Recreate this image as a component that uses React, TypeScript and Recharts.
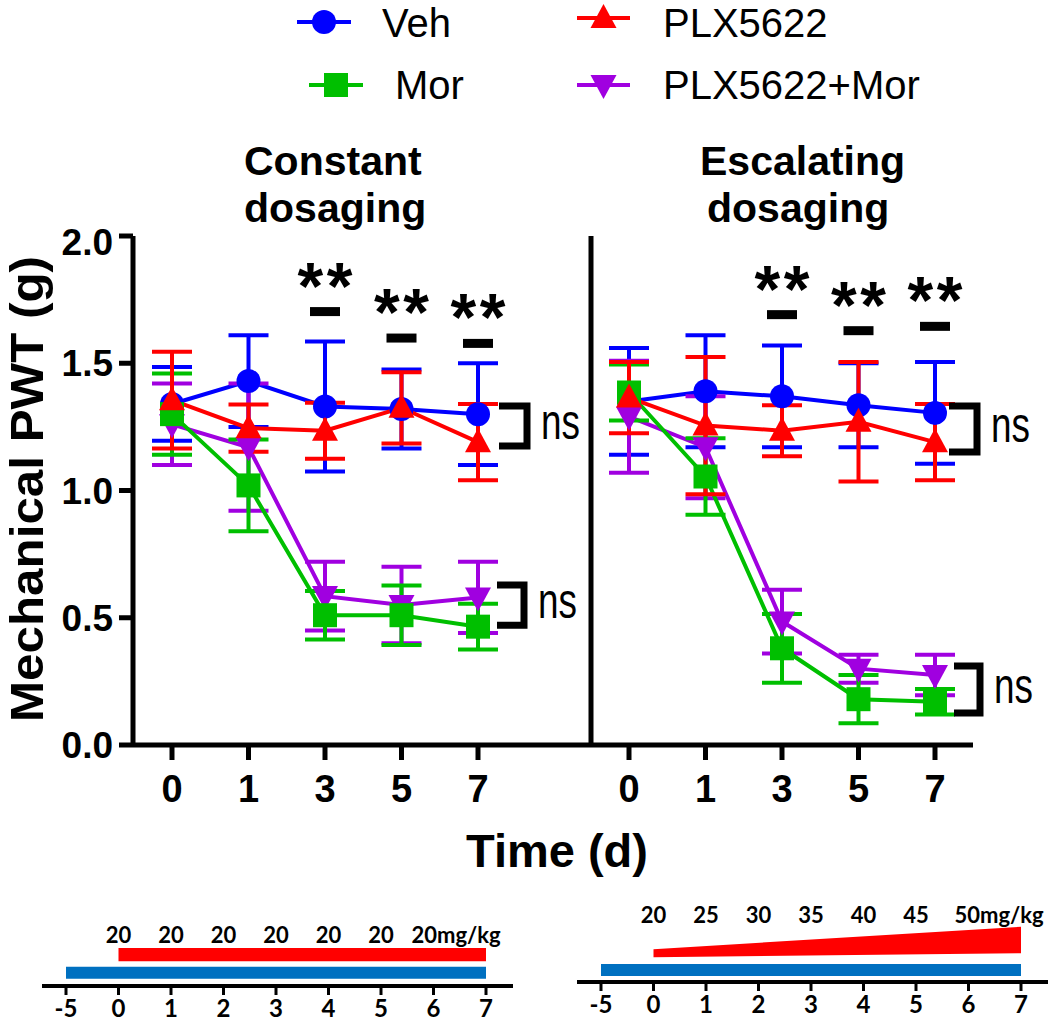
import React from 'react';
import {
  LineChart, Line, XAxis, YAxis, ErrorBar, ReferenceDot, ReferenceLine,
  ComposedChart, Area, LabelList,
} from 'recharts';

const FONT = '"Liberation Sans", Arial, Helvetica, sans-serif';
const TL_FONT = 'Lato, "Liberation Sans", Arial, sans-serif';

const BLUE = '#0000ff';
const GREEN = '#00bf00';
const RED = '#ff0000';
const PURPLE = '#a000e0';
const TL_BLUE = '#0070c0';

// time points (days)
const days = ['0', '1', '3', '5', '7'];

// constant dosaging panel: mean and SEM
const vehConst = [1.34, 1.43, 1.33, 1.32, 1.3];
const vehConstErr = [0.145, 0.18, 0.255, 0.155, 0.2];
const morConst = [1.3, 1.02, 0.51, 0.51, 0.465];
const morConstErr = [0.16, 0.18, 0.095, 0.117, 0.09];
const plxConst = [1.355, 1.245, 1.235, 1.325, 1.19];
const plxConstErr = [0.19, 0.093, 0.11, 0.14, 0.15];
const comboConst = [1.26, 1.17, 0.585, 0.55, 0.58];
const comboConstErr = [0.16, 0.25, 0.135, 0.15, 0.14];

// escalating dosaging panel
const vehEsc = [1.35, 1.39, 1.37, 1.335, 1.305];
const vehEscErr = [0.21, 0.22, 0.2, 0.165, 0.2];
const morEsc = [1.385, 1.055, 0.38, 0.18, 0.17];
const morEscErr = [0.11, 0.15, 0.135, 0.095, 0.05];
const plxEsc = [1.365, 1.255, 1.235, 1.27, 1.19];
const plxEscErr = [0.14, 0.27, 0.1, 0.235, 0.15];
const comboEsc = [1.29, 1.17, 0.485, 0.3, 0.275];
const comboEscErr = [0.22, 0.2, 0.125, 0.055, 0.08];

const yTicks = [0, 0.5, 1, 1.5, 2];

// significance bars (**) per panel
const sigDays = ['3', '5', '7'];
const sigConst = [1.703, 1.599, 1.578];
const sigEsc = [1.691, 1.628, 1.645];

// "ns" brackets at day 7: [top, bottom]
const nsConstHigh = [1.332, 1.175];
const nsConstLow = [0.629, 0.471];
const nsEscHigh = [1.332, 1.151];
const nsEscLow = [0.31, 0.126];

// dosing schedule timelines
const tlDays = ['-5', '0', '1', '2', '3', '4', '5', '6', '7'];
const constDose = [null, 20, 20, 20, 20, 20, 20, 20, null];
const escDose = [null, 20, 25, 30, 35, 40, 45, 50, null];
const salineConst = [0.9, 2.4];
const drugConst = [3.1, 4.75];
const salineEsc = [0.75, 2.25];
const wedgeStart = [3.1, 4.1];
const wedgeEnd = [3.6, 6.9];

const series = [
  { key: 'veh', name: 'Veh', color: BLUE, shape: 'circle' },
  { key: 'combo', name: 'PLX5622+Mor', color: PURPLE, shape: 'down' },
  { key: 'mor', name: 'Mor', color: GREEN, shape: 'square' },
  { key: 'plx', name: 'PLX5622', color: RED, shape: 'up' },
];

const buildRows = (
  veh: number[], vehErr: number[], mor: number[], morErr: number[],
  plx: number[], plxErr: number[], combo: number[], comboErr: number[],
) =>
  days.map((day, i) => ({
    day,
    veh: veh[i], vehErr: vehErr[i],
    mor: mor[i], morErr: morErr[i],
    plx: plx[i], plxErr: plxErr[i],
    combo: combo[i], comboErr: comboErr[i],
  }));

const constRows = buildRows(vehConst, vehConstErr, morConst, morConstErr, plxConst, plxConstErr, comboConst, comboConstErr);
const escRows = buildRows(vehEsc, vehEscErr, morEsc, morEscErr, plxEsc, plxEscErr, comboEsc, comboEscErr);

const constTl = tlDays.map((day, i) => ({
  day,
  saline: salineConst,
  drug: i >= 1 ? drugConst : null,
  dose: constDose[i],
}));
const escTl = tlDays.map((day, i) => ({
  day,
  saline: salineEsc,
  drug: i === 1 ? wedgeStart : i === tlDays.length - 1 ? wedgeEnd : null,
  dose: escDose[i],
}));

const Marker = ({ shape, cx, cy, color }: any) => {
  if (shape === 'circle') return <circle cx={cx} cy={cy} r={12} fill={color} />;
  if (shape === 'square') return <rect x={cx - 12} y={cy - 12} width={24} height={24} fill={color} />;
  if (shape === 'up')
    return <polygon points={`${cx},${cy - 14} ${cx - 13},${cy + 10} ${cx + 13},${cy + 10}`} fill={color} />;
  return <polygon points={`${cx},${cy + 14} ${cx - 13},${cy - 10} ${cx + 13},${cy - 10}`} fill={color} />;
};

const dotFor = (shape: string, color: string) => (props: any) => {
  const { cx, cy, index } = props;
  if (cx == null || cy == null) return <g key={index} />;
  return <Marker key={index} shape={shape} cx={cx} cy={cy} color={color} />;
};

const sigShape = (props: any) => {
  const { cx, cy } = props;
  return (
    <g>
      <rect x={cx - 15} y={cy - 4.5} width={30} height={9} fill="#000" />
      <text x={cx} y={cy - 3} textAnchor="middle" fontSize={66} fontWeight={700}
        fontFamily={FONT} textLength={55} lengthAdjust="spacing" fill="#000">**</text>
    </g>
  );
};

const bracketShape = (dx0: number, dx1: number) => (props: any) => {
  const { x1, y1, y2 } = props;
  const top = Math.min(y1, y2);
  const bottom = Math.max(y1, y2);
  return (
    <g>
      <path d={`M${x1 + dx0},${top} H${x1 + dx1} V${bottom} H${x1 + dx0}`}
        stroke="#000" strokeWidth={7} fill="none" strokeLinejoin="miter" />
      <text x={x1 + dx1 + 14} y={(top + bottom) / 2 + 13} fontSize={50} fontFamily={FONT}
        textLength={39} lengthAdjust="spacingAndGlyphs" fill="#000">ns</text>
    </g>
  );
};

const axisStroke = { stroke: '#000', strokeWidth: 5 };

const Panel = ({ rows, left, width, marginRight, yWidth, showTicks, padding, sig, brackets }: any) => (
  <div style={{ position: 'absolute', left, top: 220 }}>
    <LineChart width={width} height={600} data={rows}
      margin={{ top: 16, right: marginRight, bottom: 0, left: 0 }}>
      <XAxis dataKey="day" interval={0} padding={padding} height={75}
        axisLine={axisStroke} tickLine={axisStroke} tickSize={15} tickMargin={15}
        tick={{ fontSize: 38, fontWeight: 700, fill: '#000', fontFamily: FONT }} />
      <YAxis domain={[0, 2]} ticks={yTicks} width={yWidth} axisLine={axisStroke}
        tickLine={showTicks ? axisStroke : false} tickSize={14} tickMargin={6}
        tick={showTicks ? { fontSize: 37, fontWeight: 700, fill: '#000', fontFamily: FONT } : false}
        tickFormatter={(v: number) => v.toFixed(1)} />
      {series.map((s) => (
        <Line key={s.key} type="linear" dataKey={s.key} stroke={s.color} strokeWidth={4}
          dot={dotFor(s.shape, s.color)} activeDot={false} isAnimationActive={false}>
          <ErrorBar dataKey={`${s.key}Err`} width={20} strokeWidth={4} stroke={s.color}
            direction="y" isAnimationActive={false} />
        </Line>
      ))}
      {sigDays.map((d, i) => (
        <ReferenceDot key={d} x={d} y={sig[i]} r={0} shape={sigShape} ifOverflow="visible" />
      ))}
      {brackets.map((b: any, i: number) => (
        <ReferenceLine key={i} segment={[{ x: '7', y: b.range[0] }, { x: '7', y: b.range[1] }]}
          shape={bracketShape(b.dx0, b.dx1)} ifOverflow="visible" />
      ))}
    </LineChart>
  </div>
);

const doseLabel = (offset: number, lastIndex: number, shift: number) => (props: any) => {
  const { x, y, value, index } = props;
  if (value == null || x == null) return null;
  const last = index === lastIndex;
  return (
    <text key={index} x={last ? x - shift : x} y={y - offset} textAnchor={last ? 'start' : 'middle'}
      fontSize={22} fontWeight={700} fontFamily={TL_FONT} fill="#000">
      {last ? `${value}mg/kg` : value}
    </text>
  );
};

const Timeline = ({ rows, left, width, marginTop, marginLeft, marginRight, axisHeight, labelOffset, shift }: any) => (
  <div style={{ position: 'absolute', left, top: 880 }}>
    <ComposedChart width={width} height={142} data={rows}
      margin={{ top: marginTop, right: marginRight, bottom: 0, left: marginLeft }}>
      <XAxis dataKey="day" interval={0} padding={{ left: 24, right: 27 }} height={axisHeight}
        axisLine={{ stroke: '#000', strokeWidth: 4 }} tickLine={{ stroke: '#000', strokeWidth: 3 }}
        tickSize={9} tickMargin={5}
        tick={{ fontSize: 24, fontWeight: 700, fill: '#000', fontFamily: TL_FONT }} />
      <YAxis hide domain={[0, 10]} />
      <Area type="linear" dataKey="saline" stroke="none" fill={TL_BLUE} fillOpacity={1}
        isAnimationActive={false} dot={false} activeDot={false}>
        <LabelList dataKey="dose" content={doseLabel(labelOffset, 7, shift)} />
      </Area>
      <Area type="linear" dataKey="drug" stroke="none" fill={RED} fillOpacity={1} connectNulls
        isAnimationActive={false} dot={false} activeDot={false} />
    </ComposedChart>
  </div>
);

const legendItems = [
  { s: series[0], x1: 297, x2: 351, y: 22, tx: 382, ty: 37 },
  { s: series[2], x1: 309, x2: 363, y: 85, tx: 395, ty: 99 },
  { s: series[3], x1: 577, x2: 630, y: 18, tx: 663, ty: 37 },
  { s: series[1], x1: 577, x2: 630, y: 85, tx: 663, ty: 99 },
];

export default function App() {
  return (
    <div style={{ position: 'absolute', left: 0, top: 0, width: 1050, height: 1022, background: '#fff', overflow: 'hidden', fontFamily: FONT }}>
      <svg width={1050} height={1022} style={{ position: 'absolute', left: 0, top: 0 }}>
        {legendItems.map((it) => (
          <g key={it.s.key}>
            <line x1={it.x1} x2={it.x2} y1={it.y} y2={it.y} stroke={it.s.color} strokeWidth={4} />
            <Marker shape={it.s.shape} cx={(it.x1 + it.x2) / 2} cy={it.y} color={it.s.color} />
            <text x={it.tx} y={it.ty} fontSize={40} fontFamily={FONT} fill="#000">{it.s.name}</text>
          </g>
        ))}
        <g fontSize={41} fontWeight={700} fontFamily={FONT} fill="#000">
          <text x={244} y={175}>Constant</text>
          <text x={244} y={222}>dosaging</text>
          <text x={700} y={175}>Escalating</text>
          <text x={707} y={222}>dosaging</text>
        </g>
        <text transform="translate(43,489) rotate(-90)" textAnchor="middle" fontSize={47}
          textLength={466} lengthAdjust="spacingAndGlyphs"
          fontWeight={700} fontFamily={FONT} fill="#000">Mechanical PWT (g)</text>
        <text x={557} y={867} textAnchor="middle" fontSize={47} fontWeight={700} fontFamily={FONT}
          fill="#000">Time (d)</text>
      </svg>
      <Panel rows={constRows} left={0} width={600} marginRight={9} yWidth={133} showTicks
        padding={{ left: 39, right: 113 }} sig={sigConst}
        brackets={[{ range: nsConstHigh, dx0: 21, dx1: 49 }, { range: nsConstLow, dx0: 19, dx1: 46 }]} />
      <Panel rows={escRows} left={560} width={490} marginRight={77} yWidth={31} showTicks={false}
        padding={{ left: 38, right: 38 }} sig={sigEsc}
        brackets={[{ range: nsEscHigh, dx0: 14, dx1: 42 }, { range: nsEscLow, dx0: 19, dx1: 45 }]} />
      <Timeline rows={constTl} left={0} width={530} marginTop={26} marginLeft={42} marginRight={17}
        axisHeight={36} labelOffset={24} shift={22} />
      <Timeline rows={escTl} left={530} width={520} marginTop={22} marginLeft={47} marginRight={2}
        axisHeight={40} labelOffset={41} shift={14} />
    </div>
  );
}
